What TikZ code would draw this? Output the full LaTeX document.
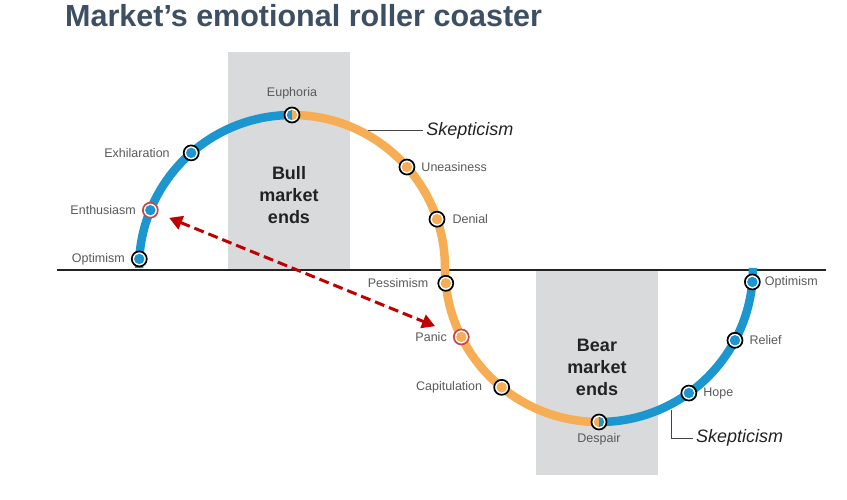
\documentclass[tikz,border=0pt]{standalone}
\usepackage{fontspec}
\setmainfont{Liberation Sans}
\usepackage{xcolor}
\usetikzlibrary{positioning,arrows.meta}

\definecolor{upblue}{HTML}{1B96CE}
\definecolor{uporange}{HTML}{F6AD54}
\definecolor{boxgray}{HTML}{D9DADC}
\definecolor{titleslate}{HTML}{3D4F62}
\definecolor{feelgray}{HTML}{595959}
\definecolor{ringred}{HTML}{C8464A}
\definecolor{arrowred}{HTML}{C00000}
\definecolor{axisblack}{HTML}{222222}
\definecolor{leadgray}{HTML}{444444}

\begin{document}
\begin{tikzpicture}[x=1pt, y=1pt, >=Triangle]
\tikzstyle{track}=[line width=8.5pt]
\tikzstyle{stage}=[circle, draw=black, line width=1.7pt, fill=white, minimum size=15pt, inner sep=0pt]
\tikzstyle{feel}=[text=feelgray, inner sep=1pt, font=\fontsize{12.5}{14}\selectfont]
\tikzstyle{ends}=[align=center, text=axisblack, font=\bfseries\fontsize{18}{22}\selectfont]
\tikzstyle{skep}=[text=axisblack, inner sep=3pt, font=\itshape\fontsize{18}{20}\selectfont]
\tikzstyle{leader}=[draw=leadgray, line width=0.8pt]
\tikzstyle{alarm}=[draw=arrowred, line width=3pt, dash pattern=on 10pt off 5pt,
    shorten <=12pt, shorten >=20pt]
\tikzset{
  core/.style={path picture={\fill[#1] (path picture bounding box.center) circle (5.2pt);}},
  split/.style 2 args={path picture={
    \fill[#1] (path picture bounding box.center) ++(0,-5.2pt)
      arc[start angle=270, end angle=90, radius=5.2pt] -- cycle;
    \fill[#2] (path picture bounding box.center) ++(0,5.2pt)
      arc[start angle=90, end angle=-90, radius=5.2pt] -- cycle;}}
}

\useasboundingbox (0,0) rectangle (847,499);

% title
\node[anchor=base west, inner sep=0pt, text=titleslate,
  font=\bfseries\fontsize{30.5}{34}\selectfont] (title) at (65,472)
  {Market’s emotional roller coaster};

% shaded phases
\fill[boxgray] (228,447) rectangle (350,229);
\fill[boxgray] (536,229) rectangle (658,24);
\node[ends] (bull) at (289,304) {Bull\\market\\ends};
\node[ends] (bear) at (597,132) {Bear\\market\\ends};

% zero line
\draw[line width=2.4pt, axisblack] (57,229) -- (826,229);

% the two half circles
\coordinate (up) at (292,231);
\coordinate (dn) at (599,231);
\draw[track, upblue] ([shift={(180:153pt)}]up) arc[start angle=180, end angle=90, radius=153pt];
\draw[track, uporange] ([shift={(90:153pt)}]up) arc[start angle=90, end angle=0, radius=153pt];
\draw[track, uporange] ([shift={(180:154pt)}]dn) arc[start angle=180, end angle=270, radius=154pt];
\draw[track, upblue] ([shift={(270:154pt)}]dn) arc[start angle=270, end angle=360, radius=154pt];

% stages
\node[stage, core=upblue] (optl) at ([shift={(176.6:153pt)}]up) {};
\node[stage, core=upblue, draw=ringred] (enth) at ([shift={(157.8:153pt)}]up) {};
\node[stage, core=upblue] (exhi) at ([shift={(131.2:153pt)}]up) {};
\node[stage, split={upblue}{uporange}] (euph) at ([shift={(90:153pt)}]up) {};
\node[stage, core=uporange] (unea) at ([shift={(41.3:153pt)}]up) {};
\node[stage, core=uporange] (deni) at ([shift={(18.6:153pt)}]up) {};
\node[stage, core=uporange] (pess) at ([shift={(185.7:154pt)}]dn) {};
\node[stage, core=uporange, draw=ringred] (pani) at ([shift={(206.6:154pt)}]dn) {};
\node[stage, core=uporange] (capi) at ([shift={(230.8:154pt)}]dn) {};
\node[stage, split={uporange}{upblue}] (desp) at ([shift={(270:154pt)}]dn) {};
\node[stage, core=upblue] (hope) at ([shift={(305.7:154pt)}]dn) {};
\node[stage, core=upblue] (reli) at ([shift={(332:154pt)}]dn) {};
\node[stage, core=upblue] (optr) at ([shift={(354.8:154pt)}]dn) {};

% stage names
\node[feel, left=5pt of optl] (optl-t) {Optimism};
\node[feel, left=5pt of enth] (enth-t) {Enthusiasm};
\node[feel, left=12pt of exhi] (exhi-t) {Exhilaration};
\node[feel, above=6pt of euph] (euph-t) {Euphoria};
\node[feel, right=5pt of unea] (unea-t) {Uneasiness};
\node[feel, right=6pt of deni] (deni-t) {Denial};
\node[feel, left=8pt of pess] (pess-t) {Pessimism};
\node[feel, left=5pt of pani] (pani-t) {Panic};
\node[feel, left=10pt of capi] (capi-t) {Capitulation};
\node[feel, below=2pt of desp] (desp-t) {Despair};
\node[feel, right=5pt of hope] (hope-t) {Hope};
\node[feel, right=5pt of reli] (reli-t) {Relief};
\node[feel, right=3pt of optr] (optr-t) {Optimism};

% skepticism callouts
\coordinate (sk1) at ([shift={(61:157pt)}]up);
\node[skep, right=55pt of sk1] (skepup) {Skepticism};
\draw[leader] (sk1) -- (skepup);
\coordinate (sk2) at ([shift={(297:159pt)}]dn);
\node[skep, anchor=west] (skepdn) at (693,61) {Skepticism};
\draw[leader] (sk2) |- (skepdn);

% enthusiasm <-> panic
\draw[alarm, {Triangle[length=13pt,width=14pt]}-{Triangle[length=13pt,width=14pt]}] (enth) -- (pani);
\end{tikzpicture}
\end{document}
